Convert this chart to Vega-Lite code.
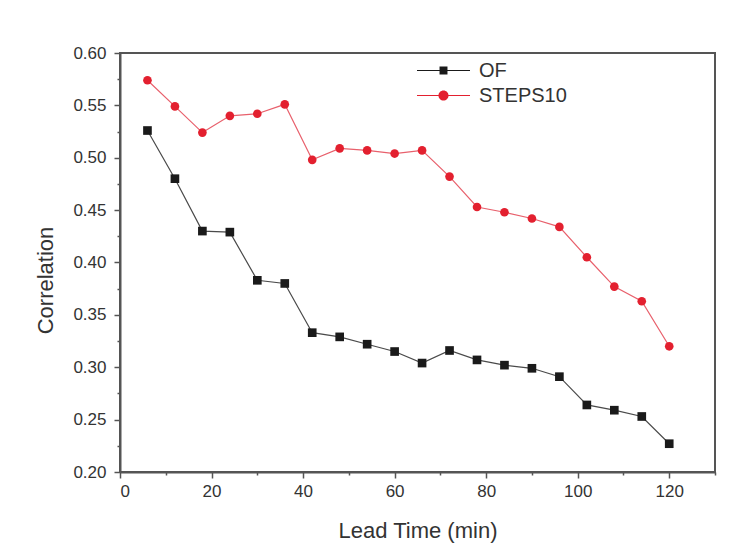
{
  "$schema": "https://vega.github.io/schema/vega-lite/v6.json",
  "autosize": {"type": "none"},
  "width": 595,
  "height": 419,
  "padding": {"left": 120, "top": 53, "right": 22, "bottom": 84},
  "background": "#ffffff",
  "config": {
    "font": "Liberation Sans",
    "view": {"stroke": "#555555", "strokeWidth": 2, "fill": "#ffffff"},
    "axis": {
      "domainColor": "#555555",
      "domainWidth": 2,
      "tickColor": "#555555",
      "tickWidth": 1.5,
      "grid": false,
      "labelColor": "#333333",
      "labelFontSize": 17,
      "labelFont": "Liberation Sans",
      "titleFont": "Liberation Sans",
      "titleFontSize": 22,
      "titleFontWeight": "normal",
      "titleColor": "#333333"
    },
    "legend": {
      "title": null,
      "orient": "none",
      "padding": 0,
      "symbolSize": 702,
      "symbolOpacity": 1,
      "symbolStrokeWidth": 0,
      "labelFontSize": 20,
      "labelColor": "#333333",
      "labelOffset": 22
    }
  },
  "data": {
    "values": [
      {"t": 6, "series": "OF", "r": 0.526},
      {"t": 12, "series": "OF", "r": 0.480},
      {"t": 18, "series": "OF", "r": 0.430},
      {"t": 24, "series": "OF", "r": 0.429},
      {"t": 30, "series": "OF", "r": 0.383},
      {"t": 36, "series": "OF", "r": 0.380},
      {"t": 42, "series": "OF", "r": 0.333},
      {"t": 48, "series": "OF", "r": 0.329},
      {"t": 54, "series": "OF", "r": 0.322},
      {"t": 60, "series": "OF", "r": 0.315},
      {"t": 66, "series": "OF", "r": 0.304},
      {"t": 72, "series": "OF", "r": 0.316},
      {"t": 78, "series": "OF", "r": 0.307},
      {"t": 84, "series": "OF", "r": 0.302},
      {"t": 90, "series": "OF", "r": 0.299},
      {"t": 96, "series": "OF", "r": 0.291},
      {"t": 102, "series": "OF", "r": 0.264},
      {"t": 108, "series": "OF", "r": 0.259},
      {"t": 114, "series": "OF", "r": 0.253},
      {"t": 120, "series": "OF", "r": 0.227},
      {"t": 6, "series": "STEPS10", "r": 0.574},
      {"t": 12, "series": "STEPS10", "r": 0.549},
      {"t": 18, "series": "STEPS10", "r": 0.524},
      {"t": 24, "series": "STEPS10", "r": 0.540},
      {"t": 30, "series": "STEPS10", "r": 0.542},
      {"t": 36, "series": "STEPS10", "r": 0.551},
      {"t": 42, "series": "STEPS10", "r": 0.498},
      {"t": 48, "series": "STEPS10", "r": 0.509},
      {"t": 54, "series": "STEPS10", "r": 0.507},
      {"t": 60, "series": "STEPS10", "r": 0.504},
      {"t": 66, "series": "STEPS10", "r": 0.507},
      {"t": 72, "series": "STEPS10", "r": 0.482},
      {"t": 78, "series": "STEPS10", "r": 0.453},
      {"t": 84, "series": "STEPS10", "r": 0.448},
      {"t": 90, "series": "STEPS10", "r": 0.442},
      {"t": 96, "series": "STEPS10", "r": 0.434},
      {"t": 102, "series": "STEPS10", "r": 0.405},
      {"t": 108, "series": "STEPS10", "r": 0.377},
      {"t": 114, "series": "STEPS10", "r": 0.363},
      {"t": 120, "series": "STEPS10", "r": 0.320}
    ]
  },
  "layer": [
    {
      "description": "Connecting lines; this layer also carries the short minor-tick axes.",
      "mark": {"type": "line", "strokeWidth": 1.2},
      "encoding": {
        "x": {
          "field": "t",
          "type": "quantitative",
          "scale": {"domain": [0, 130], "nice": false, "zero": false},
          "axis": {
            "orient": "bottom",
            "title": null,
            "values": [10, 30, 50, 70, 90, 110, 130],
            "labels": false,
            "domain": false,
            "tickSize": 3
          }
        },
        "y": {
          "field": "r",
          "type": "quantitative",
          "scale": {"domain": [0.2, 0.6], "nice": false, "zero": false},
          "axis": {
            "orient": "left",
            "title": null,
            "values": [0.225, 0.275, 0.325, 0.375, 0.425, 0.475, 0.525, 0.575],
            "labels": false,
            "domain": false,
            "tickSize": 3
          }
        },
        "stroke": {
          "field": "series",
          "type": "nominal",
          "scale": {"domain": ["OF", "STEPS10"], "range": ["#4a4a4a", "#e8606c"]},
          "legend": null
        }
      }
    },
    {
      "description": "Markers with the labelled major axes.",
      "mark": {"type": "point", "filled": true, "opacity": 1, "size": 75},
      "encoding": {
        "x": {
          "field": "t",
          "type": "quantitative",
          "axis": {
            "orient": "bottom",
            "title": "Lead Time (min)",
            "values": [0, 20, 40, 60, 80, 100, 120],
            "tickSize": 6,
            "labelPadding": 5,
            "titlePadding": 21
          }
        },
        "y": {
          "field": "r",
          "type": "quantitative",
          "axis": {
            "orient": "left",
            "title": "Correlation",
            "values": [0.2, 0.25, 0.3, 0.35, 0.4, 0.45, 0.5, 0.55, 0.6],
            "format": ".2f",
            "tickSize": 6,
            "labelPadding": 8,
            "titleX": -63,
            "titleY": 227
          }
        },
        "shape": {
          "field": "series",
          "type": "nominal",
          "scale": {"domain": ["OF", "STEPS10"], "range": ["square", "circle"]},
          "legend": null
        },
        "fill": {
          "field": "series",
          "type": "nominal",
          "scale": {"domain": ["OF", "STEPS10"], "range": ["#1a1a1a", "#e3202f"]},
          "legend": null
        }
      }
    },
    {
      "description": "Legend entry for OF: hidden markers whose legend symbol is a line with a square.",
      "transform": [{"filter": "datum.series == 'OF'"}],
      "mark": {"type": "point", "filled": true, "opacity": 0, "color": "#1a1a1a"},
      "encoding": {
        "x": {"field": "t", "type": "quantitative", "axis": null},
        "y": {"field": "r", "type": "quantitative", "axis": null},
        "shape": {
          "field": "series",
          "type": "nominal",
          "scale": {"range": ["M-2,-0.045H2V0.045H-2Z M-0.3,-0.3H0.3V0.3H-0.3Z"]},
          "legend": {"legendX": 310, "legendY": 4}
        }
      }
    },
    {
      "description": "Legend entry for STEPS10: hidden markers whose legend symbol is a line with a circle.",
      "transform": [{"filter": "datum.series == 'STEPS10'"}],
      "mark": {"type": "point", "filled": true, "opacity": 0, "color": "#e3202f"},
      "encoding": {
        "x": {"field": "t", "type": "quantitative", "axis": null},
        "y": {"field": "r", "type": "quantitative", "axis": null},
        "shape": {
          "field": "series",
          "type": "nominal",
          "scale": {"range": ["M-2,-0.045H2V0.045H-2Z M0.38,0A0.38,0.38 0 1,1 -0.38,0A0.38,0.38 0 1,1 0.38,0Z"]},
          "legend": {"legendX": 310, "legendY": 29}
        }
      }
    }
  ],
  "resolve": {
    "scale": {"shape": "independent"},
    "axis": {"x": "independent", "y": "independent"}
  }
}
